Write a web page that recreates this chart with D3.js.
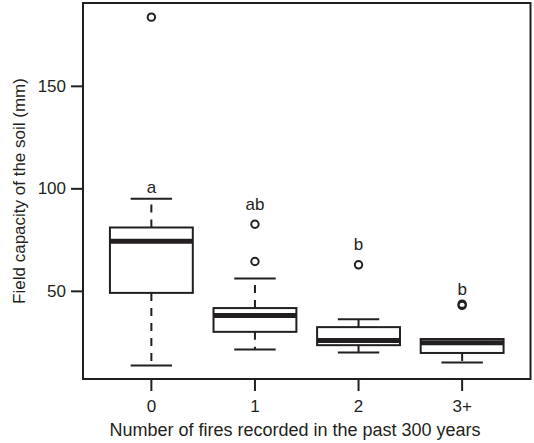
<!DOCTYPE html>
<html lang="en">
	<head>
		<meta charset="utf-8">
		<title>Field capacity boxplot</title>
		<script type="text/javascript" src="https://cdn.jsdelivr.net/npm/d3@7"></script>
		<style type="text/css">
			body {
				margin: 0;
				background-color: #ffffff;
				font-family: "Liberation Sans", Arial, Helvetica, sans-serif;
			}
			text { fill: #231f20; }
		</style>
	</head>
	<body>
		<script type="text/javascript">

			//Width and height
			var w = 534;
			var h = 443;
			//plot region (note: "top" is taken by window.top, so prefixed names)
			var plotLeft = 83, plotRight = 530.5, plotTop = 3, plotBottom = 379;
			var ink = "#231f20";

			//Data (mm)
			var categories  = ["0", "1", "2", "3+"];
			var whiskerLow  = [13.6, 21.4, 19.9, 15.1];
			var q1          = [49.0, 30.0, 23.5, 19.7];
			var medians     = [74.2, 38.0, 25.8, 24.7];
			var q3          = [80.9, 41.6, 32.3, 26.5];
			var whiskerHigh = [94.9, 56.0, 36.2, 26.5];
			var outliers    = [[183.5], [64.3, 82.5], [62.7], [42.9, 43.5]];
			var letters     = ["a", "ab", "b", "b"];
			var letterAt    = [97.7, 89.2, 70.0, 47.9];
			var yTicks      = [50, 100, 150];

			var dataset = categories.map(function(c, i) {
				return {
					cat: c,
					lo: whiskerLow[i], q1: q1[i], med: medians[i], q3: q3[i], hi: whiskerHigh[i],
					out: outliers[i], letter: letters[i], letterY: letterAt[i]
				};
			});

			//Scales
			var xScale = d3.scaleBand()
						.domain(categories)
						.range([plotLeft, plotRight])
						.paddingInner(0)
						.paddingOuter(0.16);

			var yScale = d3.scaleLinear()
						.domain([7, 190.4])
						.range([plotBottom, plotTop]);

			var cx = function(d) { return xScale(d.cat) + xScale.bandwidth() / 2; };
			var bw = xScale.bandwidth() * 0.8;

			//Create SVG element
			var svg = d3.select("body")
						.append("svg")
						.attr("width", w)
						.attr("height", h);

			var boxes = svg.selectAll("g.box")
				.data(dataset)
				.enter()
				.append("g")
				.attr("class", "box");

			//dashed whiskers
			boxes.append("line")
				.attr("x1", cx).attr("x2", cx)
				.attr("y1", function(d) { return yScale(d.q3); })
				.attr("y2", function(d) { return yScale(d.hi); })
				.attr("stroke", ink).attr("stroke-width", 2)
				.attr("stroke-dasharray", "8,7");
			boxes.append("line")
				.attr("x1", cx).attr("x2", cx)
				.attr("y1", function(d) { return yScale(d.q1); })
				.attr("y2", function(d) { return yScale(d.lo); })
				.attr("stroke", ink).attr("stroke-width", 2)
				.attr("stroke-dasharray", "8,7");

			//staples
			["lo", "hi"].forEach(function(k) {
				boxes.append("line")
					.attr("x1", function(d) { return cx(d) - bw / 4; })
					.attr("x2", function(d) { return cx(d) + bw / 4; })
					.attr("y1", function(d) { return yScale(d[k]); })
					.attr("y2", function(d) { return yScale(d[k]); })
					.attr("stroke", ink).attr("stroke-width", 2);
			});

			//boxes
			boxes.append("rect")
				.attr("x", function(d) { return cx(d) - bw / 2; })
				.attr("y", function(d) { return yScale(d.q3); })
				.attr("width", bw)
				.attr("height", function(d) { return yScale(d.q1) - yScale(d.q3); })
				.attr("fill", "white")
				.attr("stroke", ink).attr("stroke-width", 2);

			//medians
			boxes.append("line")
				.attr("x1", function(d) { return cx(d) - bw / 2; })
				.attr("x2", function(d) { return cx(d) + bw / 2; })
				.attr("y1", function(d) { return yScale(d.med); })
				.attr("y2", function(d) { return yScale(d.med); })
				.attr("stroke", ink).attr("stroke-width", 5);

			//outliers
			boxes.selectAll("circle")
				.data(function(d) { return d.out.map(function(v) { return { cat: d.cat, v: v }; }); })
				.enter()
				.append("circle")
				.attr("cx", cx)
				.attr("cy", function(d) { return yScale(d.v); })
				.attr("r", 3.7)
				.attr("fill", "none")
				.attr("stroke", ink).attr("stroke-width", 2);

			//significance letters
			boxes.append("text")
				.attr("x", cx)
				.attr("y", function(d) { return yScale(d.letterY); })
				.attr("text-anchor", "middle")
				.attr("font-size", 17)
				.text(function(d) { return d.letter; });

			//frame
			svg.append("rect")
				.attr("x", plotLeft).attr("y", plotTop)
				.attr("width", plotRight - plotLeft).attr("height", plotBottom - plotTop)
				.attr("fill", "none")
				.attr("stroke", ink).attr("stroke-width", 2);

			//Axes
			var xAxis = d3.axisBottom(xScale).tickSize(12).tickPadding(9);
			var yAxis = d3.axisLeft(yScale).tickValues(yTicks).tickSize(12).tickPadding(5);

			var gx = svg.append("g")
				.attr("transform", "translate(0," + plotBottom + ")")
				.call(xAxis);
			var gy = svg.append("g")
				.attr("transform", "translate(" + plotLeft + ",0)")
				.call(yAxis);

			[gx, gy].forEach(function(g) {
				g.select(".domain").remove();
				g.selectAll("line").attr("stroke", ink).attr("stroke-width", 2);
				g.selectAll("text")
					.attr("fill", ink)
					.attr("font-size", 17)
					.attr("font-family", "Liberation Sans, Arial, sans-serif");
			});

			//Axis titles
			svg.append("text")
				.attr("x", 295)
				.attr("y", 436)
				.attr("text-anchor", "middle")
				.attr("font-size", 18)
				.text("Number of fires recorded in the past 300 years");

			svg.append("text")
				.attr("transform", "translate(25," + ((plotTop + plotBottom) / 2) + ") rotate(-90)")
				.attr("text-anchor", "middle")
				.attr("font-size", 17)
				.text("Field capacity of the soil (mm)");

		</script>
	</body>
</html>
